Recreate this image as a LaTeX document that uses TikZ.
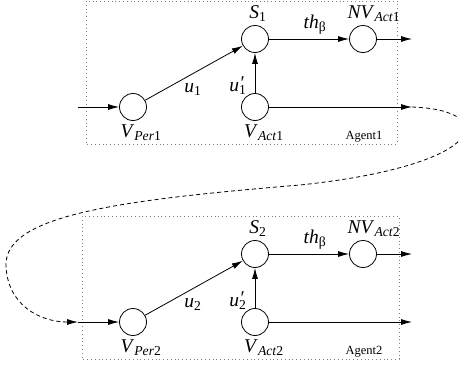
\documentclass[tikz,border=0pt]{standalone}
\usepackage{fontspec}
\setmainfont{Liberation Serif}
\usetikzlibrary{arrows.meta}

% variable with an italic name and a subscript
\newcommand{\varsub}[2]{\textit{#1}\textsubscript{#2}}
% primed variable with a subscript
\newcommand{\varprime}[2]{\textit{#1}\rlap{\kern1.5pt\raisebox{0.08em}{′}}\textsubscript{#2}}

\begin{document}
\begin{tikzpicture}[x=1pt,y=-1pt,
  unit/.style={circle,draw,minimum size=27pt,inner sep=0pt,line width=0.8pt},
  tag/.style={font=\fontsize{19.5}{22}\selectfont,anchor=base,inner sep=0pt},
  agenttag/.style={font=\fontsize{12.5}{14}\selectfont,anchor=base,inner sep=0pt},
  arr/.style={-{Latex[length=11pt,width=6pt]},line width=0.8pt},
  agentbox/.style={draw=gray,line width=0.8pt,dash pattern=on 0.8pt off 3pt},
  link/.style={arr,dash pattern=on 4pt off 3pt}]
  \useasboundingbox (0,0) rectangle (459,370);

  \foreach \i/\dy/\bl/\br in {1/0/86/397, 2/215/82/399}{
    % agent frame
    \draw[agentbox] (\bl,1+\dy) rectangle (\br,144+\dy);
    \node[agenttag] (agent\i) at (364,139+\dy) {Agent\i};

    % units
    \node[unit] (per\i) at (133,107+\dy) {};
    \node[unit] (s\i)   at (255,39+\dy) {};
    \node[unit] (nv\i)  at (363,39+\dy) {};
    \node[unit] (act\i) at (255,107+\dy) {};
    \coordinate (in\i)   at (78,107+\dy);
    \coordinate (out\i)  at (412,39+\dy);
    \coordinate (tail\i) at (412,107+\dy);

    % connections
    \draw[arr] (in\i) -- (per\i);
    \draw[arr] (per\i) -- (s\i);
    \draw[arr] (act\i) -- (s\i);
    \draw[arr] (s\i) -- (nv\i);
    \draw[arr] (nv\i) -- (out\i);
    \draw[arr] (act\i) -- (tail\i);

    % labels
    \node[tag] (ls\i)   at (258,18+\dy)  {\varsub{S}{\i}};
    \node[tag] (lnv\i)  at (374,18+\dy)  {\varsub{NV}{\textit{Act}\i}};
    \node[tag] (lth\i)  at (315,28+\dy)  {\varsub{th}{β}};
    \node[tag] (lu\i)   at (193,92+\dy)  {\varsub{u}{\i}};
    \node[tag] (lup\i)  at (238,91+\dy)  {\varprime{u}{\i}};
    \node[tag] (lper\i) at (141,137+\dy) {\varsub{V}{\textit{Per}\i}};
    \node[tag] (lact\i) at (264,137+\dy) {\varsub{V}{\textit{Act}\i}};
  }

  % output of agent 1 fed as perception of agent 2
  \draw[link] (tail1) .. controls (500,110) and (490,165) .. (300,185)
    .. controls (120,200) and (5,215) .. (6,265)
    .. controls (7,305) and (40,322) .. (in2);
\end{tikzpicture}
\end{document}
